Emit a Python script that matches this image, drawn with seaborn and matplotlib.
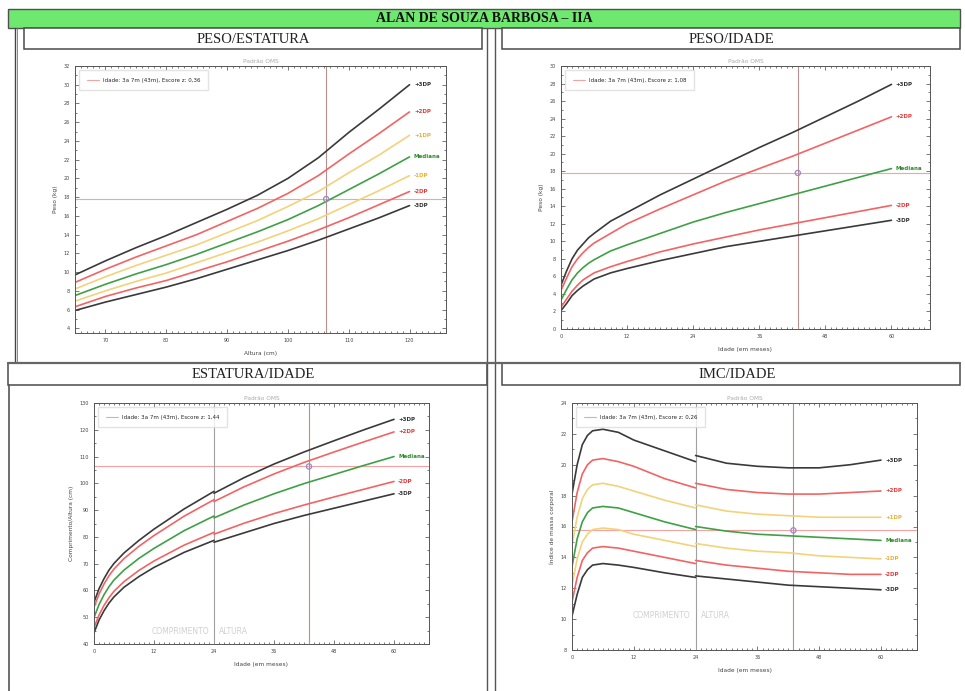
import numpy as np
import pandas as pd
import matplotlib
matplotlib.use('Agg')
import matplotlib.pyplot as plt
import seaborn as sns
from matplotlib.ticker import MultipleLocator
from matplotlib.patches import Rectangle
from matplotlib.lines import Line2D

sns.set_theme(style='white')
plt.rcParams['font.family'] = ['DejaVu Sans']

# ---------------- text ----------------
TITLE = 'ALAN DE SOUZA BARBOSA – IIA'
PANEL_TITLES = ['PESO/ESTATURA', 'PESO/IDADE', 'ESTATURA/IDADE', 'IMC/IDADE']
NAMES7 = ['+3DP', '+2DP', '+1DP', 'Mediana', '-1DP', '-2DP', '-3DP']
NAMES5 = ['+3DP', '+2DP', 'Mediana', '-2DP', '-3DP']
Z_SCORES = ['0,36', '1,08', '1,44', '0,26']
IDADE_TXT = 'Idade: 3a 7m (43m), Escore z: '

# ---------------- patient ----------------
pac_idade = 43.0
pac_altura = 106.3
pac_peso = 17.8
pac_imc = 15.75

# ---------------- Peso / Estatura ----------------
pe_altura = [65, 70, 75, 80, 85, 90, 95, 100, 105, 110, 115, 120]
pe_p3 = [9.7, 11.2, 12.6, 13.9, 15.3, 16.7, 18.2, 20.0, 22.2, 24.9, 27.4, 30.0]
pe_p2 = [8.9, 10.3, 11.6, 12.8, 14.0, 15.4, 16.8, 18.4, 20.3, 22.6, 24.8, 27.1]
pe_p1 = [8.2, 9.5, 10.7, 11.8, 12.9, 14.2, 15.5, 17.0, 18.6, 20.6, 22.5, 24.6]
pe_med = [7.5, 8.7, 9.8, 10.8, 11.9, 13.1, 14.3, 15.6, 17.1, 18.8, 20.5, 22.3]
pe_m1 = [6.9, 8.0, 9.0, 9.9, 11.0, 12.1, 13.2, 14.4, 15.7, 17.2, 18.7, 20.3]
pe_m2 = [6.3, 7.4, 8.3, 9.1, 10.1, 11.1, 12.2, 13.3, 14.5, 15.8, 17.2, 18.6]
pe_m3 = [5.9, 6.8, 7.6, 8.4, 9.3, 10.3, 11.3, 12.3, 13.4, 14.6, 15.8, 17.1]

# ---------------- Peso / Idade ----------------
pi_meses = [0, 1, 2, 3, 4, 5, 6, 9, 12, 18, 24, 30, 36, 42, 48, 54, 60]
pi_p3 = [5.0, 6.6, 8.0, 9.0, 9.7, 10.4, 10.9, 12.3, 13.3, 15.3, 17.1, 18.9, 20.7, 22.4, 24.2, 26.0, 27.9]
pi_p2 = [4.4, 5.8, 7.1, 8.0, 8.7, 9.3, 9.8, 10.9, 12.0, 13.7, 15.3, 16.9, 18.3, 19.7, 21.2, 22.7, 24.2]
pi_med = [3.3, 4.5, 5.6, 6.4, 7.0, 7.5, 7.9, 8.9, 9.6, 10.9, 12.2, 13.3, 14.3, 15.3, 16.3, 17.3, 18.3]
pi_m2 = [2.5, 3.4, 4.3, 5.0, 5.6, 6.0, 6.4, 7.1, 7.7, 8.8, 9.7, 10.5, 11.3, 12.0, 12.7, 13.4, 14.1]
pi_m3 = [2.1, 2.9, 3.8, 4.4, 4.9, 5.3, 5.7, 6.4, 6.9, 7.8, 8.6, 9.4, 10.0, 10.6, 11.2, 11.8, 12.4]

# ---------------- Estatura / Idade ----------------
ei_meses = [0, 1, 2, 3, 4, 6, 9, 12, 18, 24, 24, 30, 36, 42, 48, 54, 60]
ei_fase = [0, 0, 0, 0, 0, 0, 0, 0, 0, 0, 1, 1, 1, 1, 1, 1, 1]
ei_p3 = [55.6, 60.6, 64.4, 67.6, 70.1, 74.0, 78.7, 82.9, 90.4, 97.0, 96.3, 102.1, 107.2, 111.7, 115.9, 120.0, 123.9]
ei_p2 = [53.7, 58.6, 62.4, 65.5, 68.0, 71.9, 76.5, 80.5, 87.7, 93.9, 93.2, 98.7, 103.5, 107.8, 111.7, 115.5, 119.2]
ei_med = [49.9, 54.7, 58.4, 61.4, 63.9, 67.6, 72.0, 75.7, 82.3, 87.8, 87.1, 91.9, 96.1, 99.9, 103.3, 106.7, 110.0]
ei_m2 = [46.1, 50.8, 54.4, 57.3, 59.7, 63.3, 67.5, 71.0, 76.9, 81.7, 81.0, 85.1, 88.7, 91.9, 94.9, 97.8, 100.7]
ei_m3 = [44.2, 48.9, 52.4, 55.3, 57.6, 61.2, 65.2, 68.6, 74.2, 78.7, 78.0, 81.5, 85.0, 88.0, 90.7, 93.4, 96.1]

# ---------------- IMC / Idade ----------------
im_meses = [0, 1, 2, 3, 4, 6, 9, 12, 18, 24, 24, 30, 36, 42, 48, 54, 60]
im_fase = [0, 0, 0, 0, 0, 0, 0, 0, 0, 0, 1, 1, 1, 1, 1, 1, 1]
im_p3 = [18.1, 20.0, 21.3, 21.9, 22.2, 22.3, 22.1, 21.6, 20.9, 20.2, 20.6, 20.1, 19.9, 19.8, 19.8, 20.0, 20.3]
im_p2 = [16.3, 18.2, 19.4, 20.0, 20.3, 20.4, 20.2, 19.9, 19.1, 18.5, 18.8, 18.4, 18.2, 18.1, 18.1, 18.2, 18.3]
im_p1 = [14.8, 16.6, 17.8, 18.4, 18.7, 18.8, 18.6, 18.3, 17.7, 17.2, 17.4, 17.0, 16.8, 16.7, 16.6, 16.6, 16.6]
im_med = [13.4, 15.2, 16.3, 16.9, 17.2, 17.3, 17.2, 16.9, 16.3, 15.8, 16.0, 15.7, 15.5, 15.4, 15.3, 15.2, 15.1]
im_m1 = [12.2, 13.9, 15.0, 15.5, 15.8, 15.9, 15.8, 15.5, 15.1, 14.7, 14.9, 14.6, 14.4, 14.3, 14.1, 14.0, 13.9]
im_m2 = [11.1, 12.7, 13.8, 14.3, 14.6, 14.7, 14.6, 14.4, 14.0, 13.6, 13.8, 13.5, 13.3, 13.1, 13.0, 12.9, 12.9]
im_m3 = [10.2, 11.6, 12.7, 13.2, 13.5, 13.6, 13.5, 13.35, 13.0, 12.7, 12.8, 12.6, 12.4, 12.2, 12.1, 12.0, 11.9]

# ---------------- styles ----------------
LINE_COL = {'+3DP': '#3a3a3a', '+2DP': '#f26464', '+1DP': '#f3d27a', 'Mediana': '#3fa046',
            '-1DP': '#f3d27a', '-2DP': '#f26464', '-3DP': '#3a3a3a'}
TXT_COL = {'+3DP': '#333333', '+2DP': '#e53a3a', '+1DP': '#e9b13c', 'Mediana': '#2a8a2a',
           '-1DP': '#e9b13c', '-2DP': '#e53a3a', '-3DP': '#333333'}
H_COL = '#f3a3a3'
V_COL = '#b89090'
SERIF = ['Liberation Serif', 'DejaVu Serif']

W, H = 965, 691
fig = plt.figure(figsize=(W / 100, H / 100), dpi=100)
fig.patch.set_facecolor('white')

# ---------- frame / table overlay ----------
ov = fig.add_axes([0, 0, 1, 1])
ov.set_xlim(0, W)
ov.set_ylim(H, 0)
ov.axis('off')
ov.add_patch(Rectangle((8, 9), 952, 19, fc='#6fe86f', ec='#505050', lw=1.0))
ov.text(484, 18.8, TITLE, ha='center', va='center', fontsize=10, fontweight='bold',
        family=SERIF, color='#111111')
for (x0, y0, w, h) in [(24, 28, 458, 21), (502, 28, 458, 21), (8, 363, 479, 22), (502, 363, 458, 22)]:
    ov.add_patch(Rectangle((x0, y0), w, h, fc='white', ec='#4a4a4a', lw=1.1))
for x in (487, 495):
    ov.add_line(Line2D([x, x], [28, H], color='#555555', lw=1.0))
ov.add_line(Line2D([15, 15], [28, 362], color='#444444', lw=1.0))
ov.add_line(Line2D([17, 17], [28, 362], color='#777777', lw=0.6))
ov.add_line(Line2D([9, 9], [385, H], color='#555555', lw=1.2))
ov.add_line(Line2D([8, 960], [362.5, 362.5], color='#666666', lw=1.6))
for cx, cy, t in [(253, 39, PANEL_TITLES[0]), (731, 39, PANEL_TITLES[1]),
                  (253, 374.5, PANEL_TITLES[2]), (737, 374.5, PANEL_TITLES[3])]:
    ov.text(cx, cy, t, ha='center', va='center', fontsize=10.5, family=SERIF, color='#222222')


def pos(x0, y0, x1, y1):
    return [x0 / W, 1 - y1 / H, (x1 - x0) / W, (y1 - y0) / H]


def panel(rect, xs, curves, names, fase, xlim, ylim, xmaj, xmin, ymaj, ymin,
          xlabel, ylabel, px, py, z, split=False):
    ax = fig.add_axes(pos(*rect))
    rows = []
    for name, vals in zip(names, curves):
        for i, (xv, yv) in enumerate(zip(xs, vals)):
            rows.append({'x': xv, 'y': yv, 'curva': name, 'fase': fase[i]})
    df = pd.DataFrame(rows)
    sns.lineplot(data=df, x='x', y='y', hue='curva', units='fase', estimator=None,
                 palette={n: LINE_COL[n] for n in names}, hue_order=names,
                 lw=1.2, ax=ax, legend=False, sort=False)
    xend = xs[-1]
    dx = (xlim[1] - xlim[0]) * 0.012
    for name, vals in zip(names, curves):
        ax.text(xend + dx, vals[-1], name, color=TXT_COL[name], fontsize=4,
                fontweight='bold', ha='left', va='center')
    hl = ax.axhline(py, color=H_COL, lw=0.8, zorder=1)
    ax.axvline(px, color=V_COL, lw=0.8, zorder=1)
    if split:
        ax.axvline(24, color='#a0a0a0', lw=0.8, zorder=1)
        ty = ylim[0] + (ylim[1] - ylim[0]) * 0.05
        if ylabel.startswith('Índice'):
            ty = ylim[0] + (ylim[1] - ylim[0]) * 0.14
        ax.text(23, ty, 'COMPRIMENTO', color='#d0d0d0', fontsize=5.5, ha='right', va='center')
        ax.text(25, ty, 'ALTURA', color='#d0d0d0', fontsize=5.5, ha='left', va='center')
    ax.scatter([px], [py], s=14, facecolors='none', edgecolors='#9c86c8', lw=0.9, zorder=5)
    ax.legend([Line2D([0], [0], color=H_COL, lw=0.8)], [IDADE_TXT + z], loc='upper left',
              fontsize=4, frameon=True, fancybox=False, edgecolor='#dddddd',
              borderpad=1.3, handlelength=2.2, borderaxespad=0.8)
    ax.set_xlim(*xlim)
    ax.set_ylim(*ylim)
    ax.xaxis.set_major_locator(MultipleLocator(xmaj))
    ax.xaxis.set_minor_locator(MultipleLocator(xmin))
    ax.yaxis.set_major_locator(MultipleLocator(ymaj))
    ax.yaxis.set_minor_locator(MultipleLocator(ymin))
    ax.tick_params(which='both', direction='in', top=True, right=True, bottom=True, left=True,
                   labelsize=3.5, colors='#444444', width=0.5)
    ax.tick_params(which='major', length=3)
    ax.tick_params(which='minor', length=1.5)
    ax.set_xlabel(xlabel, fontsize=4.2, color='#444444', labelpad=6)
    ax.set_ylabel(ylabel, fontsize=4.2, color='#444444', labelpad=4)
    ax.set_title('Padrão OMS', fontsize=4.2, color='#aaaaaa', pad=2)
    for s in ax.spines.values():
        s.set_color('#555555')
        s.set_linewidth(0.7)
    ax.set_facecolor('white')
    return ax


zeros12 = [0] * len(pe_altura)
zeros17 = [0] * len(pi_meses)

panel((75, 66, 446, 333), pe_altura, [pe_p3, pe_p2, pe_p1, pe_med, pe_m1, pe_m2, pe_m3], NAMES7,
      zeros12, (65, 126), (3.5, 32), 10, 1, 2, 1, 'Altura (cm)', 'Peso (kg)',
      pac_altura, pac_peso, Z_SCORES[0])

panel((561, 66, 930, 329), pi_meses, [pi_p3, pi_p2, pi_med, pi_m2, pi_m3], NAMES5,
      zeros17, (0, 67), (0, 30), 12, 1, 2, 1, 'Idade (em meses)', 'Peso (kg)',
      pac_idade, pac_peso, Z_SCORES[1])

panel((94, 403, 429, 644), ei_meses, [ei_p3, ei_p2, ei_med, ei_m2, ei_m3], NAMES5,
      ei_fase, (0, 67), (40, 130), 12, 1, 10, 5, 'Idade (em meses)', 'Comprimento/Altura (cm)',
      pac_idade, pac_altura, Z_SCORES[2], split=True)

panel((572, 403, 917, 650), im_meses, [im_p3, im_p2, im_p1, im_med, im_m1, im_m2, im_m3], NAMES7,
      im_fase, (0, 67), (8, 24), 12, 1, 2, 1, 'Idade (em meses)', 'Índice de massa corporal',
      pac_idade, pac_imc, Z_SCORES[3], split=True)

fig.savefig('out.png', dpi=100, facecolor='white')
